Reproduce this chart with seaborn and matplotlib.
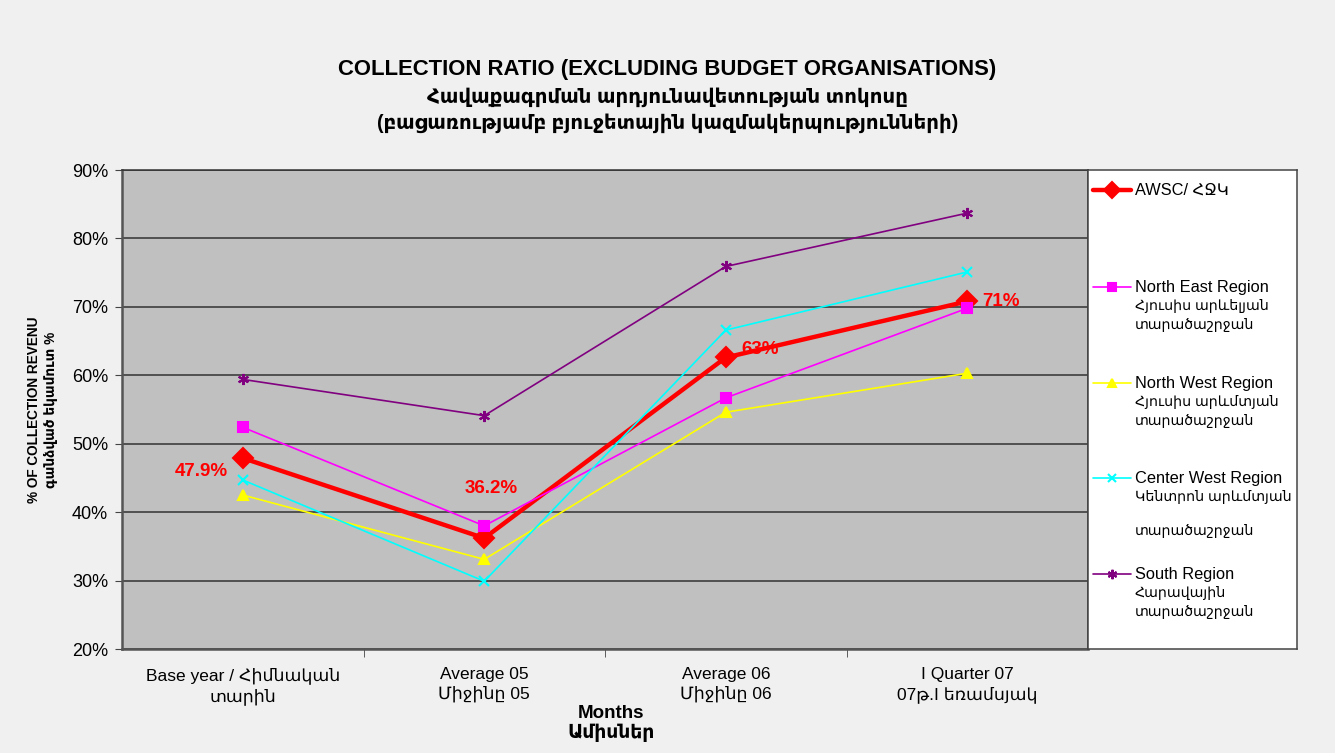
import numpy as np
import pandas as pd
import seaborn as sns
import matplotlib.pyplot as plt
from matplotlib.ticker import FuncFormatter, FixedLocator

# Chart data
categories = ['Base year / Հիմնական\nտարին', 'Average 05\nՄիջինը 05',
              'Average 06\nՄիջինը 06', 'I Quarter 07\n07թ.I եռամսյակ']
awsc = [47.9, 36.2, 62.6, 70.8]
north_east = [52.4, 38.0, 56.7, 69.8]
north_west = [42.5, 33.1, 54.6, 60.3]
center_west = [44.7, 29.9, 66.6, 75.1]
south = [59.4, 54.1, 75.9, 83.7]
awsc_labels = ['47.9%', '36.2%', '63%', '71%']

series_names = ['AWSC', 'North East', 'North West', 'Center West', 'South']
legend_labels = [['AWSC/ ՀՋԿ'],
                 ['North East Region', 'Հյուսիս արևելյան', 'տարածաշրջան'],
                 ['North West Region', 'Հյուսիս արևմտյան', 'տարածաշրջան'],
                 ['Center West Region', 'Կենտրոն արևմտյան', '', 'տարածաշրջան'],
                 ['South Region', 'Հարավային', 'տարածաշրջան']]
y_ticks = [20, 30, 40, 50, 60, 70, 80, 90]

# styles per series
colors = ['#ff0000', '#ff00ff', '#ffff00', '#00ffff', '#800080']
markers = ['D', 's', '^', 'x', (6, 2, 0)]
msizes = [10, 7, 7.5, 7, 8]
lwidths = [3.2, 1.2, 1.2, 1.2, 1.2]

sns.set_style('white')
plt.rcParams['font.family'] = ['Liberation Sans', 'DejaVu Sans']
plt.rcParams['text.color'] = 'black'
plt.rcParams['axes.labelcolor'] = 'black'
plt.rcParams['xtick.labelcolor'] = 'black'
plt.rcParams['ytick.labelcolor'] = 'black'

fig = plt.figure(figsize=(13.35, 7.53), dpi=100)
fig.patch.set_facecolor('#f0f0f0')

ax = fig.add_axes([122 / 1335, 104 / 753, 966 / 1335, 479 / 753])
ax.set_facecolor('#c0c0c0')

all_values = [awsc, north_east, north_west, center_west, south]
x_pos = np.arange(len(categories))
for name, vals, c, m, ms, lw in zip(series_names, all_values, colors, markers, msizes, lwidths):
    df = pd.DataFrame({'x': x_pos, 'y': vals})
    sns.lineplot(data=df, x='x', y='y', ax=ax, color=c, marker=m, markersize=ms,
                 linewidth=lw, markeredgecolor=c, markeredgewidth=1.5, zorder=3)

# data labels on AWSC
offsets = [(-30, -10), (5, 36), (25, 6), (24, 0)]
for xi, yi, lab, off in zip(x_pos, awsc, awsc_labels, offsets):
    ax.annotate(lab, (xi, yi), xytext=off, textcoords='offset points', ha='center',
                va='center', color='#ff0000', fontsize=13.5, fontweight='bold', zorder=4)

ax.set_xlim(-0.5, 3.5)
ax.set_ylim(20, 90)
ax.set_yticks(y_ticks)
ax.yaxis.set_major_formatter(FuncFormatter(lambda v, p: f'{v:.0f}%'))
ax.grid(axis='y', color='#333333', linewidth=1.1)
ax.set_axisbelow(True)
ax.set_xticks(x_pos)
ax.set_xticklabels(categories, fontsize=12.5, linespacing=1.3)
ax.xaxis.set_minor_locator(FixedLocator([0.5, 1.5, 2.5]))
ax.tick_params(axis='x', which='major', length=0, pad=13)
ax.tick_params(axis='x', which='minor', length=6, direction='out', color='#444444', bottom=True)
ax.tick_params(axis='y', length=5, direction='out', color='#444444', left=True, labelsize=13, pad=5)

for side in ['left', 'bottom']:
    ax.spines[side].set_color('#555555')
    ax.spines[side].set_linewidth(1.8)
for side in ['top', 'right']:
    ax.spines[side].set_color('#333333')
    ax.spines[side].set_linewidth(1.1)

ax.set_xlabel('Months\nԱմիսներ', fontsize=13.5, fontweight='bold', linespacing=1.15)
ax.xaxis.set_label_coords(0.506, -0.116)
ax.set_ylabel('% OF COLLECTION REVENU\nգանձված եկամուտ %', fontsize=9.8,
              fontweight='bold', labelpad=10, linespacing=1.3)

# title
fig.text(0.5, 1 - 70 / 753, 'COLLECTION RATIO (EXCLUDING BUDGET ORGANISATIONS)',
         ha='center', va='center', fontsize=15.9, fontweight='bold')
fig.text(0.5, 1 - 97 / 753, 'Հավաքագրման արդյունավետության տոկոսը',
         ha='center', va='center', fontsize=14.2, fontweight='bold')
fig.text(0.5, 1 - 123 / 753, '(բացառությամբ բյուջետային կազմակերպությունների)',
         ha='center', va='center', fontsize=14.2, fontweight='bold')

# legend box
lax = fig.add_axes([1088 / 1335, 104 / 753, 209 / 1335, 479 / 753])
lax.set_facecolor('white')
lax.set_xlim(0, 209)
lax.set_ylim(479, 0)
lax.set_xticks([])
lax.set_yticks([])
for s in lax.spines.values():
    s.set_color('#444444')
    s.set_linewidth(1.1)
entry_y = [20, 117, 213, 308, 404]
for lines, ey, c, m, ms, lw in zip(legend_labels, entry_y, colors, markers, msizes, lwidths):
    lax.plot([5, 43], [ey, ey], color=c, linewidth=lw)
    lax.plot([24], [ey], color=c, marker=m, markersize=ms * 0.85,
             markeredgecolor=c, markeredgewidth=1.5)
    ty = ey
    for i, line in enumerate(lines):
        if line == '':
            ty += 15
            continue
        size = 11.8 if line.isascii() or i == 0 else 10.2
        lax.text(47, ty, line, ha='left', va='center', fontsize=size)
        ty += 19

plt.savefig('out.png', dpi=100, facecolor=fig.get_facecolor())
